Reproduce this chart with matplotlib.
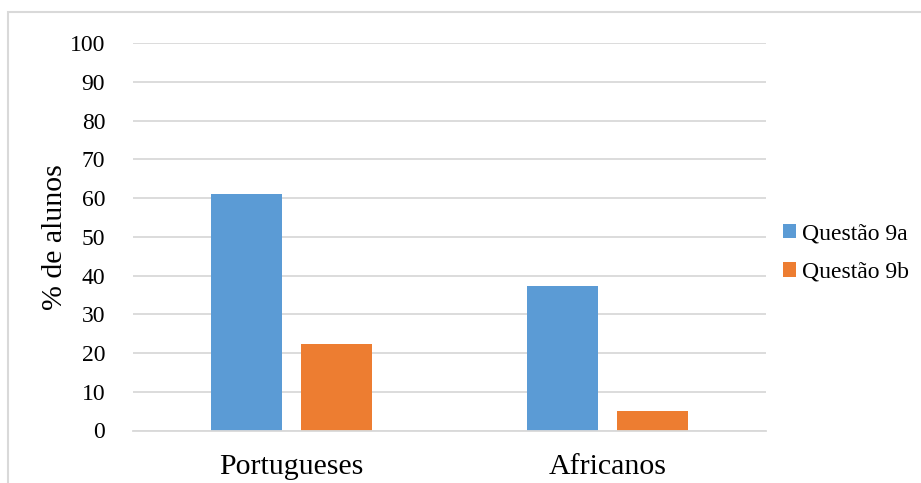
import matplotlib
matplotlib.use("Agg")
import matplotlib.pyplot as plt
import numpy as np
from matplotlib.patches import Rectangle

categories = ["Portugueses", "Africanos"]
series_names = ["Questão 9a", "Questão 9b"]
q9a = [61.2, 37.3]
q9b = [22.4, 5.0]
yticks = list(range(0, 101, 10))

plt.rcParams['font.family'] = ['Liberation Serif', 'DejaVu Serif']

W, H = 921, 483
fig = plt.figure(figsize=(W / 100, H / 100), dpi=100)
ax = fig.add_axes([133 / W, 1 - 430.5 / H, (766 - 133) / W, (430.5 - 43.3) / H])

x = np.arange(len(categories))
bw = 0.225
off = 0.1424
ax.bar(x - off, q9a, bw, color="#5B9BD5", label=series_names[0], zorder=3)
ax.bar(x + off, q9b, bw, color="#ED7D31", label=series_names[1], zorder=3)

ax.set_xlim(-0.5, 1.5)
ax.set_ylim(0, 100)
ax.set_yticks(yticks)
ax.set_yticklabels([str(t) for t in yticks], fontsize=17)
ax.set_xticks(x)
ax.set_xticklabels(categories, fontsize=21.5)
ax.tick_params(axis='y', length=0, pad=20)
ax.tick_params(axis='x', length=0, pad=17)
ax.grid(axis='y', color="#D9D9D9", lw=1.3, zorder=0)
for s in ["top", "right", "left"]:
    ax.spines[s].set_visible(False)
ax.spines["bottom"].set_color("#D9D9D9")
ax.spines["bottom"].set_linewidth(1.3)
ax.spines["bottom"].set_zorder(4)

fig.text(55 / W, 1 - 237 / H, "% de alunos", rotation=90, fontsize=21.5,
         ha="center", va="center")

leg = fig.legend(loc="center left", bbox_to_anchor=(783 / W, 1 - 253 / H),
                 frameon=False, fontsize=17, handlelength=0.55, handleheight=0.55,
                 handletextpad=0.25, labelspacing=0.75, borderpad=0,
                 borderaxespad=0)

# outer chart border
fig.patches.append(Rectangle((8 / W, -0.1), 1.2, 1 - 12 / H + 0.1,
                             transform=fig.transFigure, fill=False,
                             edgecolor="#D9D9D9", lw=1.5, zorder=0))

fig.savefig("out.png", dpi=100)
